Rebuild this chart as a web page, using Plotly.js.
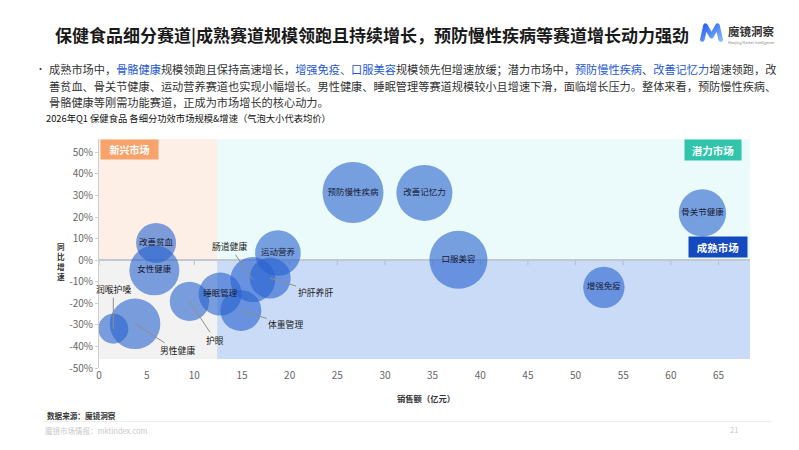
<!DOCTYPE html>
<html>
<head>
<meta charset="utf-8">
<script src="https://cdn.plot.ly/plotly-3.0.1.min.js"></script>
<style>html,body{margin:0;padding:0;background:#fff;}#chart{width:799px;height:450px;}</style>
</head>
<body>
<div id="chart"></div>
<script>
// ---------- data ----------
const categories = ['改善贫血','女性健康','润喉护嗓','男性健康','护眼','睡眠管理','体重管理','肠道健康','护肝养肝','运动营养','预防慢性疾病','改善记忆力','口服美容','增强免疫','骨关节健康'];
const salesYi   = [5.99, 5.81, 1.50, 3.78, 9.49, 12.71, 14.88, 16.14, 17.96, 18.77, 26.65, 34.14, 37.71, 52.97, 63.31];
const yoyGrowth = [8.0, -4.7, -31.8, -29.5, -19.1, -15.7, -23.3, -9.0, -8.3, 3.3, 31.4, 31.2, 0.2, -12.6, 21.9];
const avgPrice  = [200, 250, 150, 253, 197, 215, 205, 225, 205, 228, 305, 280, 290, 207, 237];
const xTickVals = [0,5,10,15,20,25,30,35,40,45,50,55,60,65];
const yTickVals = [-50,-40,-30,-20,-10,0,10,20,30,40,50];
const yTickText = yTickVals.map(v => v + '%');
const marketNames = ['新兴市场','潜力市场','成熟市场'];
const salesSplit = 12.4;

const titleText = '保健食品细分赛道|成熟赛道规模领跑且持续增长，预防慢性疾病等赛道增长动力强劲';
const B = (t) => '<span style="color:#2357d3">' + t + '</span>';
const bodyLines = [
  '成熟市场中，' + B('骨骼健康') + '规模领跑且保持高速增长，' + B('增强免疫、口服美容') + '规模领先但增速放缓；潜力市场中，' + B('预防慢性疾病') + '、' + B('改善记忆力') + '增速领跑，改',
  '善贫血、骨关节健康、运动营养赛道也实现小幅增长。男性健康、睡眠管理等赛道规模较小且增速下滑，面临增长压力。整体来看，预防慢性疾病、',
  '骨骼健康等刚需功能赛道，正成为市场增长的核心动力。'
];
const subTitle = '2026年Q1 保健食品 各细分功效市场规模&增速（气泡大小代表均价）';

// ---------- styles ----------
const FONT = '"Noto Sans CJK SC", "Noto Sans", sans-serif';
const outsideLabels = { '润喉护嗓':[0,-39], '男性健康':[42,27], '护眼':[26,39], '体重管理':[45,14], '护肝养肝':[45,14], '肠道健康':[-23,-33] };
const W = 799, H = 450, ML = 99, MR = 49, MT = 139, MB = 82;
const PW = W - ML - MR, PH = H - MT - MB;
const px = (x) => (x - ML) / PW;
const py = (y) => (H - MB - y) / PH;
const xMax = 68.3, yMin = -50, yTop = 56.2, shadeBottom = -45.8;

const trace = {
  type: 'scatter', mode: 'markers+text',
  x: salesYi, y: yoyGrowth,
  text: categories.map(c => outsideLabels[c] ? '' : c),
  textposition: 'middle center',
  textfont: {family: FONT, size: 8.5, color: '#161a33'},
  marker: {size: avgPrice, sizemode: 'diameter', sizeref: 5, color: 'rgba(38,98,206,0.85)', line: {width: 0}},
  hoverinfo: 'skip', showlegend: false, cliponaxis: false
};

const shapes = [
  {type:'rect', xref:'x', yref:'y', x0:0, x1:salesSplit, y0:0, y1:yTop, fillcolor:'#fdefe5', line:{width:0}, layer:'below'},
  {type:'rect', xref:'x', yref:'y', x0:salesSplit, x1:xMax, y0:0, y1:yTop, fillcolor:'#ebfbfb', line:{width:0}, layer:'below'},
  {type:'rect', xref:'x', yref:'y', x0:0, x1:salesSplit, y0:shadeBottom, y1:0, fillcolor:'#f2f2f2', line:{width:0}, layer:'below'},
  {type:'rect', xref:'x', yref:'y', x0:salesSplit, x1:xMax, y0:shadeBottom, y1:0, fillcolor:'#c9dbf7', line:{width:0}, layer:'below'},
  {type:'line', xref:'paper', yref:'paper', x0:px(43), x1:px(771), y0:py(421.5), y1:py(421.5), line:{color:'#ececec', width:1}}
];
xTickVals.forEach(v => shapes.push({type:'line', xref:'x', yref:'y', x0:v, x1:v, ysizemode:'pixel', yanchor:0, y0:0, y1:-5, line:{color:'#b9bdc8', width:1}, layer:'below'}));

const annotations = [];
function ann(text, x, y, opts) {
  annotations.push(Object.assign({text, xref:'paper', yref:'paper', x:px(x), y:py(y), showarrow:false, xanchor:'left', yanchor:'middle', font:{family:FONT, size:10, color:'#333'}}, opts || {}));
}
// header body text
ann('•', 34, 69, {font:{family:FONT, size:9, color:'#333'}});
bodyLines.forEach((t, i) => ann(t, 47, [69, 86, 102][i], {font:{family:FONT, size:11.2, color:'#333'}}));
ann(subTitle, 44, 118, {font:{family:FONT, size:9.3, color:'#111'}});
// logo text
ann('<b>魔镜洞察</b>', 751, 31, {xanchor:'center', font:{family:FONT, size:11.5, color:'#333'}});
ann('Moojing Market Intelligence', 751, 42, {xanchor:'center', font:{family:FONT, size:3.6, color:'#888'}});
// axis titles
ann('<b>同<br>比<br>增<br>速</b>', 61, 261, {xanchor:'center', font:{family:FONT, size:7.6, color:'#333'}});
ann('<b>销售额（亿元）</b>', 426, 398, {xanchor:'center', font:{family:FONT, size:8.3, color:'#333'}});
// footer
ann('<b>数据来源：魔镜洞察</b>', 45, 415, {font:{family:FONT, size:7.6, color:'#333'}});
ann('魔镜市场情报：mktindex.com', 43, 431, {font:{family:FONT, size:7.5, color:'#c8c8c8'}});
ann('21', 734, 429, {xanchor:'center', font:{family:FONT, size:7.5, color:'#c8c8c8'}});

// market labels
annotations.push({text:'<b>'+marketNames[0]+'</b>', xref:'x', yref:'y', x:0, y:yTop, xanchor:'left', yanchor:'top', xshift:1, showarrow:false, bgcolor:'#f8a36b', width:55, height:17, font:{family:FONT, size:10, color:'#fff'}});
annotations.push({text:'<b>'+marketNames[1]+'</b>', xref:'x', yref:'y', x:xMax, y:yTop, xanchor:'right', yanchor:'top', xshift:-8, showarrow:false, bgcolor:'#30c4ab', width:54, height:18, font:{family:FONT, size:10.5, color:'#fff'}});
annotations.push({text:'<b>'+marketNames[2]+'</b>', xref:'x', yref:'y', x:xMax, y:0, xanchor:'right', yanchor:'bottom', xshift:-2, yshift:2, showarrow:false, bgcolor:'#1449bf', width:56, height:18, font:{family:FONT, size:10.5, color:'#fff'}});

// outside bubble labels with leader lines
categories.forEach((c, i) => {
  const o = outsideLabels[c];
  if (!o) return;
  annotations.push({text:c, xref:'x', yref:'y', x:salesYi[i], y:yoyGrowth[i], ax:o[0], ay:o[1], showarrow:true, arrowhead:0, arrowwidth:1, arrowcolor:'#8f8f8f', standoff:0, startstandoff:0, font:{family:FONT, size:8.8, color:'#222'}});
});

const logoSvg = "<svg xmlns='http://www.w3.org/2000/svg' viewBox='0 0 24 19'><defs><linearGradient id='g' x1='0' y1='0' x2='1' y2='1'><stop offset='0' stop-color='#2a5ff0'/><stop offset='1' stop-color='#7fb4ff'/></linearGradient></defs><path d='M3.2 16.5 L6.2 2.6 L12 13.2 L17.8 2.6 L20.8 16.5' fill='none' stroke='url(#g)' stroke-width='4.4' stroke-linecap='round' stroke-linejoin='round'/></svg>";

const layout = {
  width: W, height: H,
  margin: {l: ML, r: MR, t: MT, b: MB, pad: 0},
  paper_bgcolor: '#fff', plot_bgcolor: '#fff',
  font: {family: FONT},
  title: {text: '<b>' + titleText + '</b>', xref:'container', yref:'container', x: 55/W, y: 1 - 36/H, xanchor:'left', yanchor:'middle', font:{family:FONT, size:17, color:'#1a1a1a'}},
  xaxis: {range:[0, xMax], tickvals:xTickVals, showgrid:false, zeroline:false, showline:false, ticks:'', tickfont:{family:FONT, size:10, color:'#666'}, fixedrange:true},
  yaxis: {range:[yMin, yTop], tickvals:yTickVals, ticktext:yTickText, tickmode:'array', showgrid:false, zeroline:true, zerolinecolor:'#c3c7d2', zerolinewidth:1.5, showline:true, linecolor:'#cfcfcf', linewidth:1, ticks:'outside', ticklen:3, tickcolor:'#cfcfcf', tickfont:{family:FONT, size:10, color:'#666'}, fixedrange:true},
  shapes, annotations,
  images: [{source: 'data:image/svg+xml;charset=utf-8,' + encodeURIComponent(logoSvg), xref:'paper', yref:'paper', x:px(699), y:py(23), sizex:25/PW, sizey:19/PH, xanchor:'left', yanchor:'top', sizing:'stretch', layer:'above'}]
};

Plotly.newPlot('chart', [trace], layout, {staticPlot:true, displayModeBar:false});
</script>
</body>
</html>
